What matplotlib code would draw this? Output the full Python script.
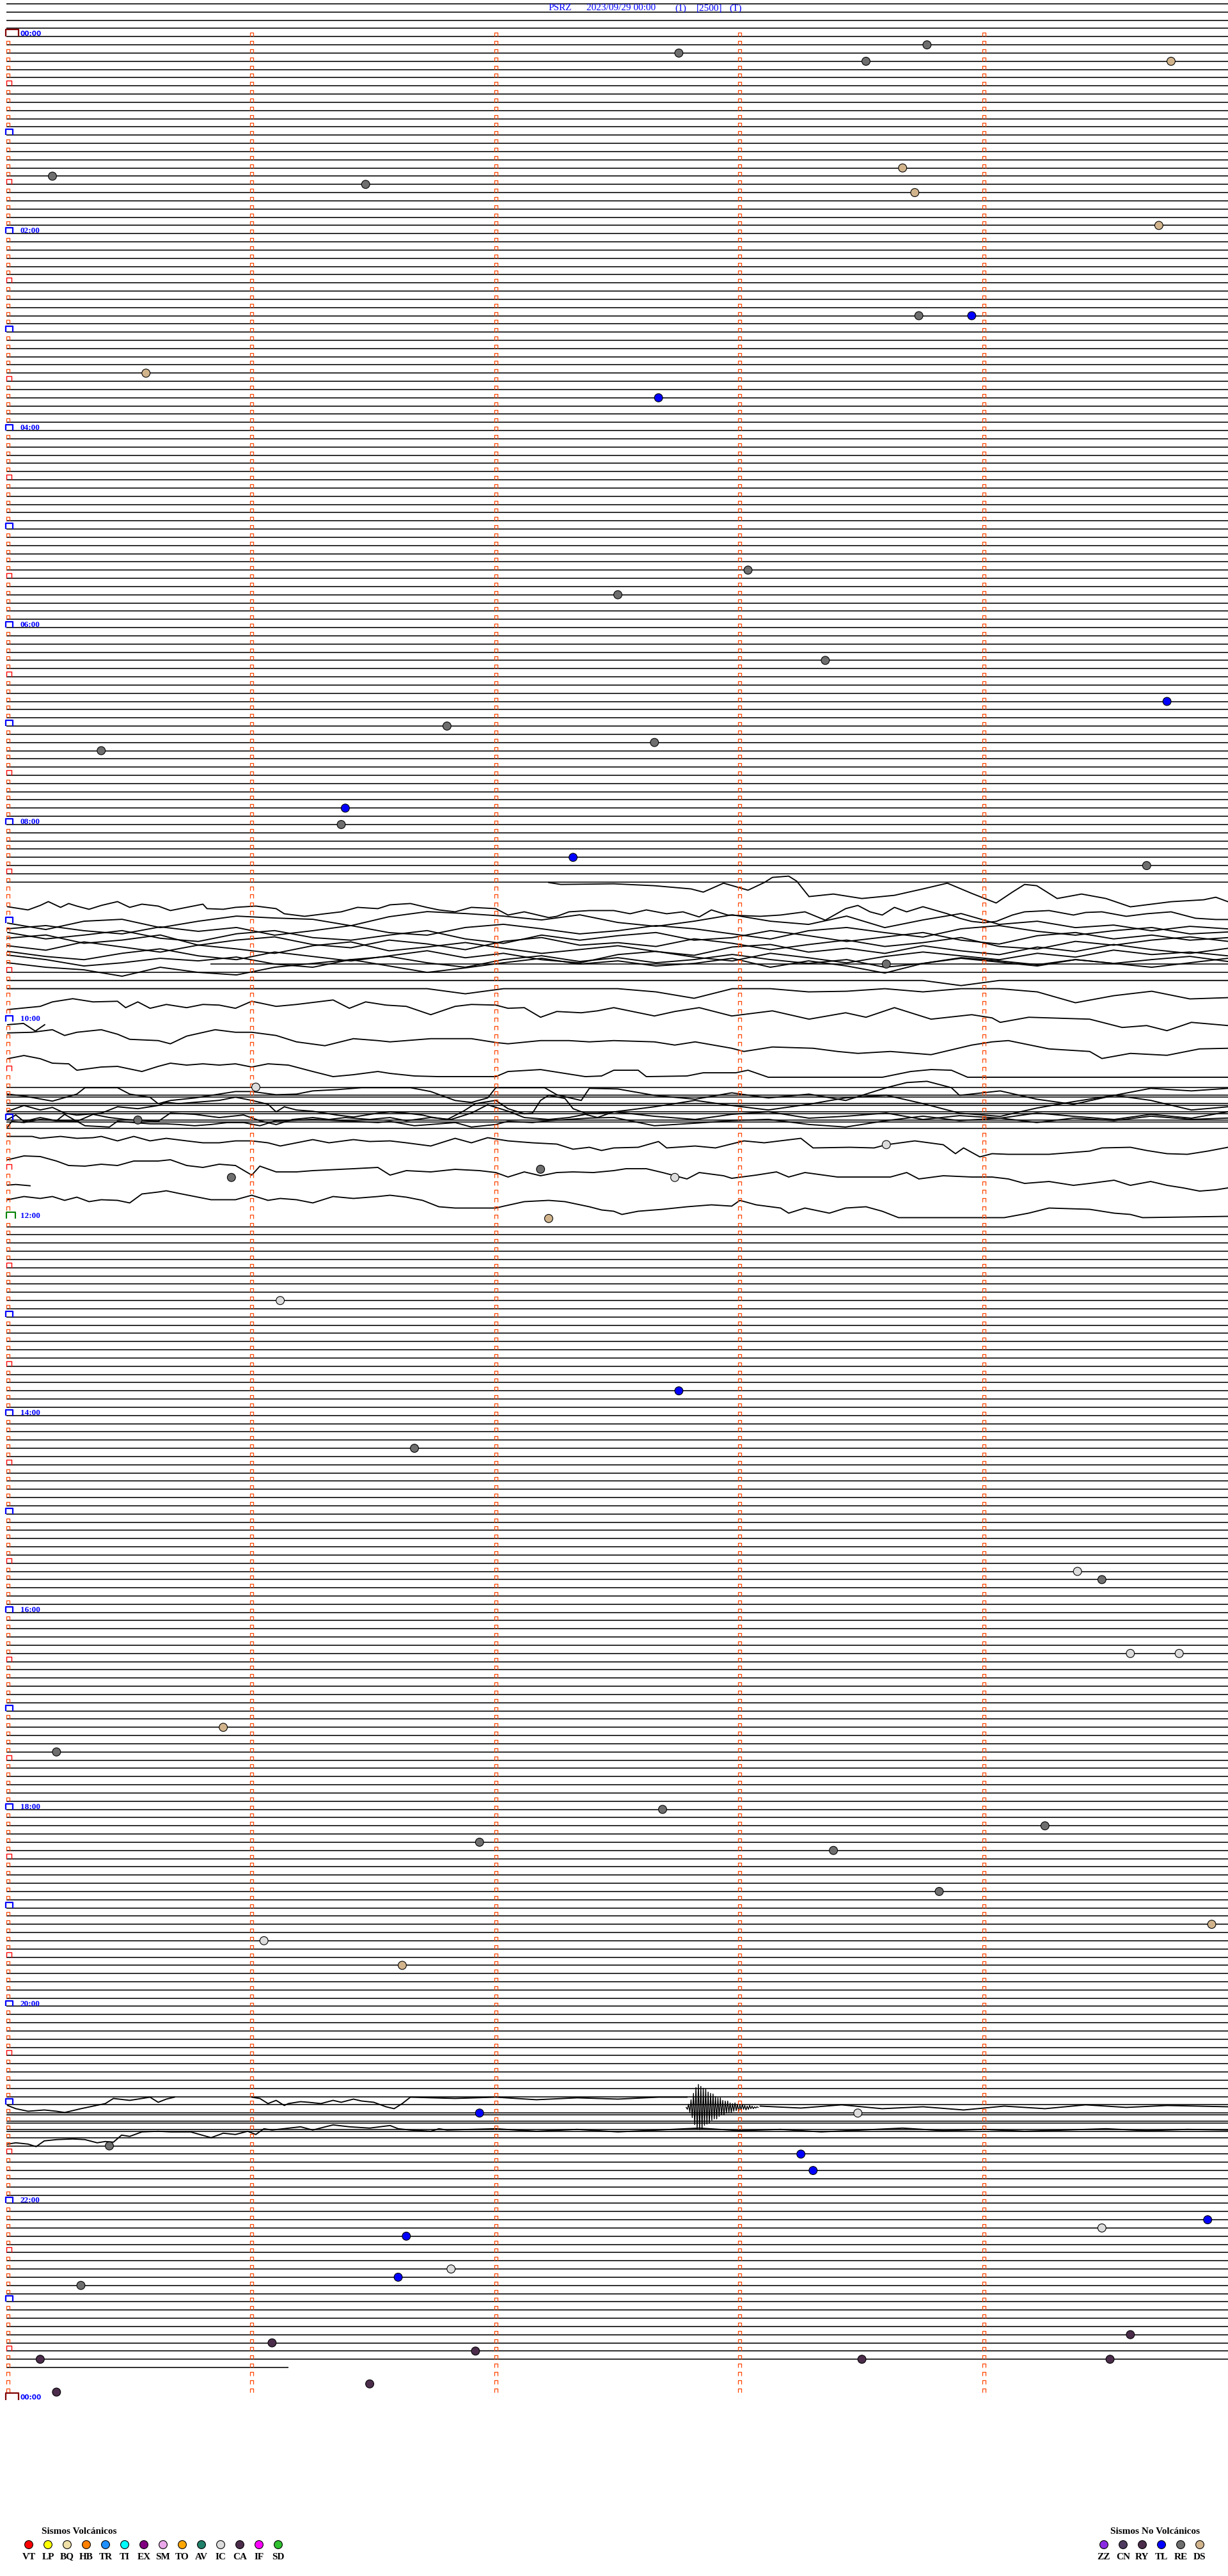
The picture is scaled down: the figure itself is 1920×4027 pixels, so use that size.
import numpy as N
import matplotlib
matplotlib.use("Agg")
import matplotlib.pyplot as plt
from matplotlib.collections import LineCollection

# header pieces
station = "PSRZ"
stamp = "2023/09/29 00:00"
tags = ["(1)", "[2500]", "(T)"]

# drum: 5 minute rows, 288 rows a day
MIN_PER_ROW = 5
ROWS_DAY = 288
lead_rows = [-4, -3, -2, -1]
last_row = 284
last_row_end = 1.15

# event picks
ev_time = ["00:08:46", "00:12:45", "00:18:31", "00:19:46", "01:23:40", "01:25:11",
           "01:31:28", "01:38:43", "01:59:43", "02:53:44", "02:53:57", "03:25:34",
           "03:42:40", "05:28:02", "05:42:30", "06:23:21", "06:49:45", "07:01:48",
           "07:12:39", "07:15:23", "07:51:23", "08:01:22", "08:22:19", "08:29:40",
           "09:28:36", "10:41:01", "11:00:32", "11:18:36", "11:32:11", "11:35:55",
           "11:37:44", "12:02:13", "12:51:07", "13:47:45", "14:21:40", "15:39:23",
           "15:44:29", "16:29:36", "16:29:48", "17:10:53", "17:25:12", "18:02:41",
           "18:14:15", "18:21:56", "18:28:23", "18:53:49", "19:14:56", "19:21:03",
           "19:36:37", "21:06:56", "21:08:29", "21:25:25", "21:33:15", "21:43:18",
           "22:14:55", "22:19:29", "22:21:38", "22:41:49", "22:46:36", "22:50:18",
           "23:24:36", "23:26:05", "23:31:55", "23:35:08", "23:38:30", "23:39:31",
           "23:51:29", "23:55:12"]
ev_type = ["RE", "RE", "RE", "DS", "DS", "RE",
           "RE", "DS", "DS", "RE", "TL", "DS",
           "TL", "RE", "RE", "RE", "TL", "RE",
           "RE", "RE", "TL", "RE", "TL", "RE",
           "RE", "IC", "RE", "IC", "RE", "RE",
           "IC", "DS", "IC", "TL", "RE", "IC",
           "RE", "IC", "IC", "DS", "RE", "RE",
           "RE", "RE", "RE", "RE", "DS", "IC",
           "DS", "TL", "IC", "RE", "TL", "TL",
           "TL", "IC", "TL", "IC", "TL", "RE",
           "CA", "CA", "CA", "CA", "CA", "CA",
           "CA", "CA"]

# legend
vol_codes = ["VT", "LP", "BQ", "HB", "TR", "TI", "EX", "SM", "TO", "AV", "IC", "CA", "IF", "SD"]
vol_colors = ["#ff0000", "#ffff00", "#f0e0a8", "#ff8000", "#1e90ff", "#00ffff", "#800080",
              "#eaa8ea", "#ffa500", "#20806a", "#dcdcdc", "#4b2d4b", "#ff00ff", "#30c030"]
nv_codes = ["ZZ", "CN", "RY", "TL", "RE", "DS"]
nv_colors = ["#8a2be2", "#4e3a5e", "#4b2d4b", "#0000ff", "#6e6e6e", "#d2b48c"]

# noisy stretch, rows with no plain flat trace
noise_rows = list(range(104, 145))
flat_inside = [114, 128, 129, 130, 131, 132, 133]
double_rows = [129, 130, 131, 132, 253, 254, 255]
partial_flat = [(113, 0.83, 5.0)]

# tangled traces 09:40-09:50: (row, offsets in counts every STEP minutes)
STEP = 0.15625
band_traces = [
    (107, [13, 23, 10, 7, 20, 10, 2, 5, 7, 17, 3, -5, -2, 2, 8, 0, 12,
           18, 10, 0, 10, 15, 2, 20, 8, -2, 15, 10, 20, 16, 25, 18, 22]),
    (108, [9, 4, 12, 17, 6, 13, 7, 19, 12, 4, 15, 19, 7, 2, 9, 17, 12,
           4, 9, 17, 25, 12, 7, 15, 22, 9, 4, 13, 19, 12, 7, 17, 14]),
    (109, [2, 12, 6, -1, 11, 16, 4, -1, 10, 14, 6, -1, 12, 19, 6, 14, 7,
           2, 14, 10, -1, 7, 16, 9, 2, 14, 20, 7, 2, 12, 6, 14, 10]),
    (110, [-2, -7, 6, 1, -7, 9, 1, -4, 8, 13, 1, 7, 16, 3, -3, 9, 5,
           11, -1, 6, 16, 8, 1, 11, 5, -3, 11, 15, 3, 9, 1, -4, 3]),
    (111, [-3, 4, -9, -1, 7, -4, 2, 9, -3, -9, 5, -1, -8, 1, 9, 3, -3,
           6, 12, -1, -5, 7, 1, 9, -3, 5, 11, -1, 6, -5, 3, 9, 1]),
    (112, [-7, 1, 6, -4, -11, 0, 6, -6, 1, 8, 0, -8, 3, -4, 6, 11, -2,
           -7, 2, 8, -4, 3, 11, 1, -6, 0, 6, -4, 2, -9, -2, -6, 0]),
    (113, [-14, -7, 3, -2, -9, -5, -11, 0, 5, -7, -12, -2, 5, -7, -13, -4, -10,
           -2, -7, -15, -7, -1, -7, 5, -1, -10, -5, 1, -7, -1, -7, -12, -4]),
    (113, [-2, 5, 9, 19, 5, 13, 17, 5, -1, -7, 3, 13, 6, -2, -9, 0, -5,
           3, -1, -9, 5, -5, 3, 14, -1, -9, -3, 3, -7, -1, 5, -2, -9]),
    (115, [0, 0, 0, 0, 0, 0, 0, 0, 0, 0, 0, 0, 0, 0, 0, 0, 0,
           0, 0, 0, 0, 0, 0, 0, 0, 8, 0, 0, 0, 0, 0, 0, 0]),
    (116, [0, 0, 0, 0, 0, 0, 0, 0, 0, 0, 0, 0, 8, 0, 0, 0, 0,
           5, 15, 0, 0, 5, 4, 0, 5, 0, 0, 5, 22, 11, 4, 16, 14]),
]

# traced rows: (row, seconds into row, offsets in counts)
detail_traces = [
    (104, [133, 136, 149, 159, 168, 171, 176, 182, 186, 188, 192, 194, 197, 203, 210, 218,
           225, 231, 237, 243, 247, 250, 253, 258, 264, 270, 276, 286, 294, 297, 300],
          [-12, -9, -10, -7, -2, 3, -11, 0, -12, -20, -22, -14, 10, 6, 13, 8,
           -2, -11, 5, 20, 3, -9, -7, 13, 6, 13, 26, 18, 15, 11, 18]),
    (105, [0, 3, 5, 8, 10, 13, 15, 17, 20, 23, 27, 30, 33, 37, 40, 44, 48, 49, 53, 56,
           61, 66, 68, 73, 78, 82, 86, 91, 94, 99, 103, 106, 110, 114, 120, 123, 127,
           133, 135, 138, 143, 149, 153, 157, 162, 166, 170, 173, 177, 185, 190, 196,
           201, 206, 209, 212, 215, 218, 221, 225, 231, 234, 237, 240, 243, 247, 250,
           256, 262, 265, 269, 275, 280, 286, 292, 297, 300],
          [13, 16, 18, 11, 5, 14, 8, 12, 17, 11, 5, 14, 9, 12, 19, 14, 9, 16, 17, 14,
           12, 16, 24, 28, 24, 21, 14, 16, 10, 8, 14, 18, 21, 14, 16, 26, 21,
           30, 28, 21, 19, 19, 24, 18, 24, 21, 29, 18, 26, 28, 26, 21,
           34, 16, 11, 21, 26, 14, 21, 13, 24, 31, 36, 38, 36, 26, 21,
           19, 26, 22, 21, 28, 24, 21, 31, 33, 33]),
    (118, [0, 8, 11, 16, 21, 27, 29, 32, 35, 39, 44, 48, 52, 56, 60, 66, 71, 80, 84,
           88, 93, 98, 104, 110, 114, 120, 123, 127, 131, 135, 141, 145, 149, 159,
           164, 170, 178, 188, 197, 206, 211, 218, 227, 237, 242, 244, 251, 266, 274,
           280, 285, 291, 300],
          [7, 2, -5, -10, -5, -6, 4, -5, 5, -1, 4, -1, 0, 5, -6, 2, -1, -8, 5,
           -5, 0, 2, 15, 2, -1, 0, 5, 4, 19, 10, 12, 9, 4, 17,
           10, 4, 17, 9, 22, 12, 19, 4, 22, 15, 20, 27, 19, 22, 35,
           32, 40, 27, 32]),
    (120, [0, 3.9, 6.8, 9.1], [5, 3, 15, 5]),
    (121, [0, 6, 11, 14, 17, 23, 27, 30, 37, 40, 44, 51, 56, 60, 66, 71, 78, 85, 91,
           94, 104, 114, 120, 123, 131, 138, 143, 149, 159, 164, 169, 178, 181, 188,
           198, 204, 209, 217, 227, 237, 242, 246, 256, 266, 269, 276, 285, 293, 300],
          [5, 4, 0, 9, 4, 0, 7, 15, 17, 22, 10, 0, 4, 4, 9, 19, 25, 14, 17,
           19, 14, 14, 20, 22, 17, 17, 19, 17, 19, 24, 19, 29, 34, 27,
           29, 34, 37, 34, 39, 24, 19, 17, 30, 34, 45, 37, 40, 30, 29]),
    (125, [0, 4, 8, 11, 15, 17, 23, 27, 33, 37, 40, 44, 48, 52, 56, 60, 64, 69, 75,
           80, 85, 91, 94, 100, 106, 120, 123, 131, 137, 142, 146, 149, 155, 157,
           167, 171, 179, 182, 187, 215, 222, 227, 232, 236, 300],
          [-6, -11, -6, 1, 2, 12, 7, 6, 14, 6, 1, 4, 2, 4, 2, 7, 2, 4, 14,
           22, 19, 14, 17, 21, 22, 22, 14, 11, 17, 22, 21, 12, 12, 22,
           21, 16, 16, 12, 23, 23, 14, 11, 12, 23, 23]),
    (129, [0, 4, 11, 17, 19, 27, 30, 35, 37, 40, 46, 52, 56, 60, 66, 71, 75, 81, 87,
           99, 104, 110, 114, 118, 120, 132, 135, 141, 143, 150, 159, 169, 178, 187,
           197, 206, 216, 221, 226, 232, 234, 244, 253, 262, 272, 281, 291, 300],
          [-2, 1, 9, -2, -12, -12, -2, 3, 13, 8, 4, -2, -6, -6, -1, -2, -7, -9, -12,
           -12, -6, 8, 11, 4, -12, -12, -1, 8, -11, -10, 0, 6, -4, 4,
           -2, 8, -12, -20, -22, -12, 0, -7, 6, 14, 0, -11, -7, -11]),
    (130, [0, 4, 8, 11, 14, 17, 23, 27, 32, 37, 39, 42, 46, 52, 56, 60, 64, 66, 68,
           71, 75, 81, 85, 91, 94, 98, 102, 104, 108, 112, 115, 118, 120, 123, 127,
           129, 131, 133, 137, 139, 142, 145, 149, 159, 169, 178, 187, 197, 206, 216,
           225, 234, 244, 253, 262, 272, 281, 291, 300],
          [12, 3, 10, 6, 15, 18, 15, 5, 8, 3, -2, 0, -2, -5, -10, -5, 1, 13, 5,
           10, 12, 18, 21, 15, 13, 15, 18, 21, 25, 12, 0, -3, -5, 8, 16,
           15, -5, -13, -8, 8, 15, 15, 13, 5, -5, 3, 10, 1, -9, -13,
           0, 15, 20, 7, -3, -13, -5, 10, 5]),
    (131, [0, 2, 4, 8, 12, 14, 17, 21, 25, 29, 37, 40, 46, 52, 58, 62, 66, 70, 75,
           79, 83, 89, 94, 98, 104, 109, 114, 118, 123, 127, 133, 138, 142, 145, 149,
           159, 169, 178, 187, 197, 206, 216, 225, 234, 244, 253, 262, 272, 281, 291, 300],
          [12, 5, 15, 9, 14, 4, 15, 4, 9, 12, 15, 2, 4, 9, 5, 14, 20, 12, 9,
           12, 9, 12, 9, 14, 9, 12, 2, -11, -1, 9, 12, 9, 4, 9, 0,
           7, 12, 4, 0, 10, 7, 2, 12, 6, 10, 2, 7, 12, 4, 10, 0]),
    (132, [0, 1, 4, 8, 12, 17, 19, 25, 27, 31, 35, 39, 42, 46, 50, 54, 58, 62, 66,
           69, 75, 85, 91, 94, 100, 104, 110, 114, 120, 123, 129, 133, 138, 143, 149,
           159, 169, 178, 187, 197, 206, 216, 225, 234, 244, 253, 262, 272, 281, 291, 300],
          [11, 2, 4, -1, 1, 2, 9, 11, 2, 4, 6, 6, 7, 9, 7, 4, 4, 9, 1,
           1, -1, 2, 4, 2, 9, 7, 4, 11, 7, 2, 4, 1, -1, -3, -4,
           9, 5, 1, -1, 7, 11, 1, -6, 1, -3, 4, -3, 1, -6, -1, -3]),
    (134, [0, 6, 8, 13, 17, 21, 23, 27, 31, 35, 39, 44, 48, 52, 56, 60, 64, 67, 71,
           75, 79, 85, 89, 94, 98, 104, 110, 114, 118, 123, 129, 135, 139, 143, 146,
           149, 155, 160, 162, 169, 174, 181, 186, 195, 198, 207, 213, 216, 223, 230,
           233, 235, 239, 242, 246, 256, 266, 269, 276, 280, 285, 290, 295, 300],
          [0, 0, 3, 0, 3, 2, 0, 7, 0, 7, 3, 7, 10, 10, 7, 7, 10, 15, 10,
           5, 10, 5, 8, 7, 10, 15, 3, 10, 2, 7, 10, 12, 20, 17, 22,
           18, 17, 8, 18, 15, 18, 7, 10, 3, 18, 17, 18, 13, 7, 13,
           27, 18, 32, 27, 28, 28, 23, 18, 17, 22, 27, 28, 23, 17]),
    (137, [0, 4, 8, 12, 15, 19, 23, 27, 31, 37, 40, 44, 48, 52, 56, 60, 62, 66, 71,
           75, 85, 91, 94, 98, 104, 110, 116, 120, 123, 127, 131, 135, 139, 144, 149,
           152, 157, 161, 167, 170, 176, 178, 184, 189, 192, 196, 204, 211, 217, 221,
           224, 230, 237, 242, 246, 250, 256, 262, 266, 272, 276, 281, 285, 289, 293,
           297, 300],
          [-2, -8, -7, 0, 7, 8, 5, 7, 0, 0, -2, 7, 10, 5, 7, 22, 8, 17, 17,
           15, 12, 10, 22, 15, 17, 13, 15, 18, 25, 17, 23, 18, 17, 18, 15,
           12, 12, 18, 28, 18, 23, 27, 22, 17, 25, 18, 25, 25, 25, 18,
           28, 23, 25, 25, 28, 35, 32, 38, 35, 30, 38, 32, 38, 42, 47,
           45, 42]),
    (139, [0, 2, 5.5], [12, 11, 13]),
    (140, [0, 4, 8, 11, 14, 17, 20, 23, 27, 30, 33, 37, 39, 42, 46, 50, 56, 60, 64,
           67, 71, 75, 80, 85, 91, 94, 98, 102, 106, 110, 120, 122, 127, 133, 137,
           143, 146, 149, 151, 155, 161, 167, 173, 178, 180, 184, 190, 192, 196, 202,
           206, 211, 215, 219, 245, 251, 256, 266, 272, 276, 279, 300],
          [22, 17, 20, 17, 23, 18, 25, 22, 23, 27, 13, 10, 8, 12, 17, 22, 22, 15, 23,
           20, 22, 27, 17, 20, 17, 15, 18, 23, 33, 35, 35, 32, 25, 23, 25,
           33, 38, 40, 45, 40, 37, 33, 30, 32, 23, 30, 35, 43, 35, 43,
           35, 33, 40, 50, 50, 43, 35, 37, 43, 45, 50, 48]),
    # 21:00 stretch
    (252, [0, 2, 5, 9, 12, 14, 18, 21, 24, 26, 30, 32, 35, 37, 39, 41],
          [1, 6, 10, 8, 10, 12, 6, 2, -2, -10, -7, -9, -12, -4, -9, -12]),
    (252, [60, 62, 64, 66, 68, 69, 72, 74, 77, 80, 82, 85, 87, 90, 93, 95, 97, 99,
           110, 120, 130, 140, 150, 160, 167],
          [-12, -10, -2, -7, 1, -2, -5, -4, -2, -7, -4, -9, -6, -4, 3, 6, -2, -12,
           -10, -12, -8, -11, -9, -12, -12]),
    (252, [185, 195, 205, 215, 225, 235, 245, 255, 265, 275, 285, 300],
          [2, 5, 0, 6, 3, 8, 2, 6, 0, 4, 1, 3]),
    (256, [0, 2, 5, 7, 9, 12, 16, 19, 22, 24, 26, 28, 30, 33, 37, 40, 45, 50, 53,
           56, 59, 61, 63, 65, 72, 75, 80, 84, 89, 94, 96, 99, 104, 106, 108,
           120, 130, 140, 150, 160, 170, 180, 190, 200, 210, 220, 230, 240, 250, 260,
           270, 280, 290, 300],
          [10, 8, 10, 14, 5, 3, 2, 3, 8, 6, 7, -4, -2, -9, -10, -9, -9, 0, -7,
           -5, -10, -5, -14, -12, -17, -12, -20, -17, -15, -19, -14, -12, -10, -14, -12,
           -14, -10, -13, -9, -12, -15, -11, -13, -9, -12, -15, -11, -13, -10, -12,
           -14, -11, -13, -12]),
]

# event burst near 21:05
burst_row = 252
burst_base = 4
burst_start = 166.8
burst_step = 0.3
burst = [0, 3, -5, 8, -12, 16, -22, 27, -31, 34, -36, 35, -33, 34, -30, 28, -29, 26, -24, 25,
         -22, 20, -21, 18, -17, 18, -15, 14, -15, 12, -11, 12, -10, 9, -10, 8, -7, 8, -6, 6,
         -7, 5, -5, 6, -4, 4, -5, 3, -3, 4, -2, 3, -3, 2, -2, 2, -1, 1, -1, 0]

# pixel geometry of the drum
W, H = 1920, 4027
X0, PX_MIN = 12.0, 381.6
Y0, PX_ROW = 57.3, 12.83
dx = 1.0 / PX_MIN
dy = 1.0 / PX_ROW
LW = 1.15
WLW = 1.35

fig = plt.figure(figsize=(W / 100, H / 100), dpi=100)
fig.patch.set_facecolor("white")
ax = fig.add_axes([0, 0, 1, 1])
ax.set_xlim(-X0 / PX_MIN, (W - X0) / PX_MIN)
ax.set_ylim((H - Y0) / PX_ROW, -Y0 / PX_ROW)
ax.set_axis_off()

#Flat traces
flat = [r for r in lead_rows + list(range(0, last_row))
        if r not in noise_rows or r in flat_inside]
ax.hlines(flat, -2 * dx, MIN_PER_ROW, color="k", lw=LW)
ax.hlines(last_row, -2 * dx, last_row_end, color="k", lw=LW)
ax.hlines(N.array(double_rows) + 2.8 * dy, -2 * dx, MIN_PER_ROW, color="k", lw=LW)
for r, a, b in partial_flat:
    ax.hlines(r, a, b, color="k", lw=LW)

#Wiggly traces
for r, offs in band_traces:
    offs = N.array(offs, dtype=float)
    xs = STEP * N.arange(len(offs))
    ax.plot(xs, r + offs * dy, color="k", lw=WLW)
for r, secs, offs in detail_traces:
    xs = N.array(secs, dtype=float) / 60.0
    ax.plot(xs, r + N.array(offs, dtype=float) * dy, color="k", lw=WLW)
bx = (burst_start + burst_step * N.arange(len(burst))) / 60.0
ax.plot(bx, burst_row + (burst_base + N.array(burst)) * dy, color="k", lw=1.0)

#Minute ticks on every row
def cap(x, r, left, right, h):
    return [(x + left * dx, r), (x + left * dx, r - h * dy),
            (x + right * dx, r - h * dy), (x + right * dx, r)]

segs, cols, lws = [], [], []
for r in range(0, ROWS_DAY + 1):
    for m in range(MIN_PER_ROW):
        if r == ROWS_DAY and m > 0:
            continue
        if m == 0 and r % ROWS_DAY == 0:
            segs.append(cap(m, r, -3, 17, 11)); cols.append("#800000"); lws.append(1.6)
        elif m == 0 and r == 144:
            segs.append(cap(m, r, -2, 12, 10)); cols.append("#008000"); lws.append(1.5)
        elif m == 0 and r % 12 == 0:
            segs.append(cap(m, r, -3, 8, 9)); cols.append("#0000ff"); lws.append(1.6)
        elif m == 0 and r % 6 == 0:
            segs.append(cap(m, r, -2, 6, 8)); cols.append("#ff0000"); lws.append(1.0)
        else:
            segs.append(cap(m, r, -2.5, 2.5, 6)); cols.append("#ff4500"); lws.append(0.9)
ax.add_collection(LineCollection(segs, colors=cols, linewidths=lws, zorder=3))

#Hour labels every two hours
for r in range(0, ROWS_DAY + 1, 24):
    h = (r // 12) % 24
    lab = "%02d:00" % h
    if r % ROWS_DAY == 0:
        ax.text(20 * dx, r - 1 * dy, lab, color="#0000ff", fontsize=7.6,
                fontweight="bold", family="DejaVu Sans", va="baseline", ha="left")
    else:
        ax.text(20 * dx, r - 1 * dy, lab, color="#0000ff", fontsize=9.5,
                fontweight="bold", family="Liberation Serif", va="baseline", ha="left")

#Events
ev_min = []
for t in ev_time:
    hh, mm, ss = [int(v) for v in t.split(":")]
    ev_min.append(hh * 60 + mm + ss / 60.0)
ev_min = N.array(ev_min)
ev_row = N.floor(ev_min / MIN_PER_ROW)
ev_x = ev_min - ev_row * MIN_PER_ROW
colmap = dict(zip(vol_codes + nv_codes, vol_colors + nv_colors))
ax.scatter(ev_x, ev_row, s=85, c=[colmap[t] for t in ev_type],
           edgecolors="k", linewidths=0.8, zorder=5)

#Header and legend in pixel space
lax = fig.add_axes([0, 0, 1, 1])
lax.set_xlim(0, W)
lax.set_ylim(H, 0)
lax.set_axis_off()
lax.patch.set_alpha(0)

pieces = [station, stamp] + tags
starts = [858, 917, 1055, 1089, 1140]
for s, x in zip(pieces, starts):
    lax.text(x, 13, s, color="#0000ff", fontsize=11, family="Liberation Serif",
             va="center", ha="left")

lax.text(124, 3957, "Sismos Volcánicos", fontsize=11, fontweight="bold",
         family="Liberation Serif", ha="center", va="center")
vx = 45 + 30 * N.arange(len(vol_codes))
lax.scatter(vx, N.full(len(vx), 3978), s=85, c=vol_colors, edgecolors="k",
            linewidths=0.8)
for x, c in zip(vx, vol_codes):
    lax.text(x, 3997, c, fontsize=11, fontweight="bold", family="Liberation Serif",
             ha="center", va="center")

lax.text(1806, 3957, "Sismos No Volcánicos", fontsize=11, fontweight="bold",
         family="Liberation Serif", ha="center", va="center")
nx = 1726 + 30 * N.arange(len(nv_codes))
lax.scatter(nx, N.full(len(nx), 3978), s=85, c=nv_colors, edgecolors="k",
            linewidths=0.8)
for x, c in zip(nx, nv_codes):
    lax.text(x, 3997, c, fontsize=11, fontweight="bold", family="Liberation Serif",
             ha="center", va="center")

fig.savefig("out.png", dpi=100)
